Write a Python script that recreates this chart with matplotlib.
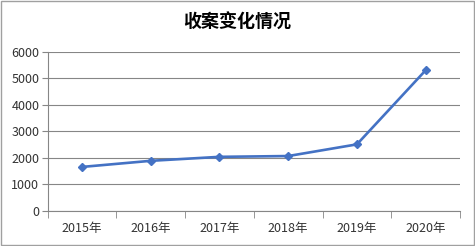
import matplotlib
matplotlib.use('Agg')
import matplotlib.pyplot as plt
from matplotlib.patches import Rectangle

# Données
years = ['2015年', '2016年', '2017年', '2018年', '2019年', '2020年']
cases = [1660, 1890, 2040, 2070, 2510, 5300]
y_ticks = [0, 1000, 2000, 3000, 4000, 5000, 6000]

plt.rcParams['font.family'] = ['Noto Sans CJK SC', 'DejaVu Sans']

fig = plt.figure(figsize=(4.75, 2.46), dpi=100)
ax = fig.add_axes([0.1004, 0.1423, 0.868, 0.6475])

x = list(range(len(years)))
ax.plot(x, cases, color='#4472C4', linewidth=1.9, marker='D', markersize=4, zorder=3)

ax.set_xlim(-0.5, len(years) - 0.5)
ax.set_ylim(0, 6000)
ax.set_yticks(y_ticks)
ax.set_yticklabels([str(v) for v in y_ticks], fontsize=9, color='#333333')
ax.set_xticks(x)
ax.set_xticklabels(years, fontsize=9, color='#333333')
ax.tick_params(axis='x', length=0, pad=8)
ax.set_xticks([i - 0.5 for i in range(len(years) + 1)], minor=True)
ax.tick_params(axis='x', which='minor', length=5, color='#868686', direction='out')
ax.tick_params(axis='y', length=4, color='#868686', direction='out', pad=2)

ax.grid(axis='y', color='#868686', linewidth=0.8)
ax.set_axisbelow(True)
for side in ['top', 'right']:
    ax.spines[side].set_visible(False)
for side in ['left', 'bottom']:
    ax.spines[side].set_color('#868686')
    ax.spines[side].set_linewidth(0.8)

fig.text(0.5, 0.91, '收案变化情况', ha='center', va='center', fontsize=13,
         fontweight='bold', color='black')

# cadre autour de la figure
fig.patches.append(Rectangle((0.002, 0.004), 0.996, 0.992, transform=fig.transFigure,
                             fill=False, edgecolor='#A0A0A0', linewidth=1))

fig.savefig('out.png', dpi=100)
